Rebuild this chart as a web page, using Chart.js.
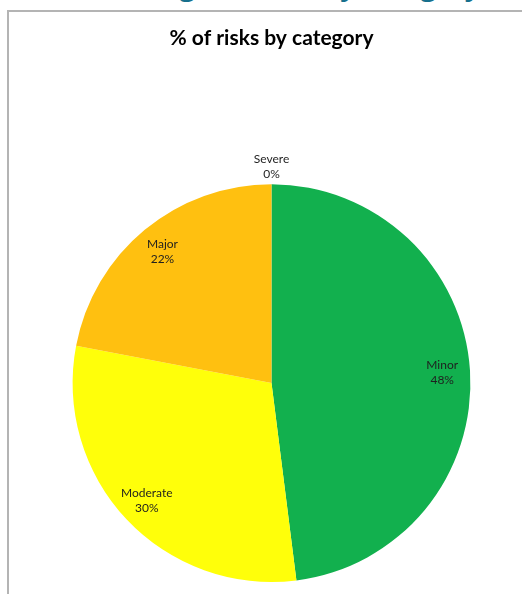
<!DOCTYPE html>
<html>
<head>
<meta charset="utf-8">
<script src="https://cdn.jsdelivr.net/npm/chart.js@4/dist/chart.umd.min.js"></script>
<style>
  html, body { margin: 0; padding: 0; background: #fff; }
  body { width: 522px; height: 594px; position: relative; overflow: hidden; }
  #heading { position: absolute; right: 42px; top: -29px; font: bold 27px/30px "Open Sans", sans-serif; color: #17708d; white-space: nowrap; }
  #frame { position: absolute; left: 7px; top: 10px; width: 600px; height: 700px; border-left: 2px solid #b4b4b4; border-top: 2px solid #b4b4b4; background: #fff; }
  #c { position: absolute; left: 0; top: 0; }
</style>
</head>
<body>
<div id="heading">Percentage of risks by category</div>
<div id="frame"></div>
<canvas id="c" width="522" height="594"></canvas>
<script>
const categories = ["Minor", "Moderate", "Major", "Severe"];
const percentValues = [48, 30, 22, 0];
const sliceColors = ["#12B04E", "#FFFF0A", "#FFC010", "#C00000"];
const chartTitle = "% of risks by category";

const labelPlugin = {
  id: "sliceLabels",
  afterDatasetsDraw(chart) {
    const ctx = chart.ctx;
    const meta = chart.getDatasetMeta(0);
    ctx.save();
    ctx.font = "12px Lato, 'Open Sans', sans-serif";
    ctx.fillStyle = "#1f1f1f";
    ctx.textAlign = "center";
    ctx.textBaseline = "middle";
    meta.data.forEach((arc, i) => {
      const p = arc.getProps(["x", "y", "startAngle", "endAngle", "outerRadius"], true);
      const mid = (p.startAngle + p.endAngle) / 2;
      const v = percentValues[i];
      const dist = v === 0 ? p.outerRadius + 18 : p.outerRadius * 0.86;
      const cx = p.x + Math.cos(mid) * dist;
      const cy = p.y + Math.sin(mid) * dist;
      ctx.fillText(categories[i], cx, cy - 7.5);
      ctx.fillText(v + "%", cx, cy + 7.5);
    });
    ctx.restore();
  }
};

new Chart(document.getElementById("c"), {
  type: "pie",
  data: {
    labels: categories,
    datasets: [{
      data: percentValues,
      backgroundColor: sliceColors,
      borderWidth: 0
    }]
  },
  options: {
    responsive: false,
    animation: false,
    layout: { padding: { left: 72, right: 51, top: 26, bottom: 12 } },
    plugins: {
      legend: { display: false },
      tooltip: { enabled: false },
      title: {
        display: true,
        text: chartTitle,
        color: "#000",
        font: { family: "Lato, 'Open Sans', sans-serif", size: 21, weight: "bold", lineHeight: 1.2 },
        padding: { top: 0, bottom: 133 }
      }
    }
  },
  plugins: [labelPlugin]
});
</script>
</body>
</html>
